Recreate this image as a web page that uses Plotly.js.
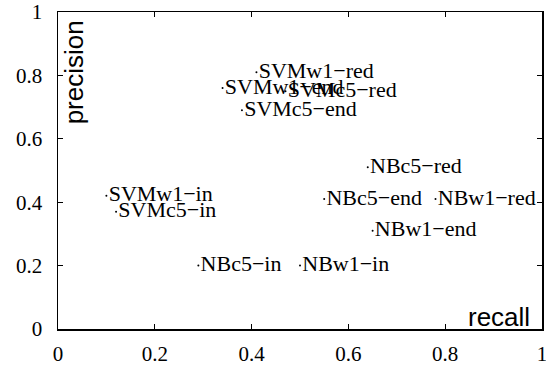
<!DOCTYPE html>
<html>
<head>
<meta charset="utf-8">
<script src="https://cdn.plot.ly/plotly-3.0.1.min.js"></script>
<style>html,body{margin:0;padding:0;background:#fff;}#chart{width:546px;height:366px;}</style>
</head>
<body>
<div id="chart"></div>
<script>
const labels = ["SVMw1−red","SVMw1−end","SVMc5−red","SVMc5−end","SVMw1−in","SVMc5−in",
                "NBc5−red","NBc5−end","NBw1−red","NBw1−end","NBw1−in","NBc5−in"];
const recall    = [0.41, 0.34, 0.47, 0.38, 0.10, 0.12, 0.64, 0.55, 0.78, 0.65, 0.50, 0.29];
const precision = [0.81, 0.76, 0.75, 0.69, 0.42, 0.37, 0.51, 0.41, 0.41, 0.31, 0.20, 0.20];
const tickVals = [0, 0.2, 0.4, 0.6, 0.8, 1];
const tickText = ["0", "0.2", "0.4", "0.6", "0.8", "1"];

const serif = "'Liberation Serif', 'Times New Roman', serif";
const sans = "'Liberation Sans', Arial, sans-serif";

const trace = {
  x: recall, y: precision, text: labels,
  type: "scatter", mode: "markers+text",
  textposition: "middle right",
  marker: {size: 2, color: "#000"},
  textfont: {family: serif, size: 22, color: "#000"},
  cliponaxis: false, hoverinfo: "none"
};

const axisCommon = {
  range: [0, 1], showgrid: false, zeroline: false,
  showline: true, linecolor: "#000", linewidth: 1.5, mirror: "allticks",
  ticks: "inside", ticklen: 5, tickcolor: "#000", tickwidth: 1,
  tickvals: tickVals, ticktext: tickText,
  tickfont: {family: serif, size: 21, color: "#000"},
  ticklabeloverflow: "allow",
  fixedrange: true
};

const layout = {
  width: 546, height: 366,
  margin: {l: 58, r: 4, t: 12, b: 37},
  paper_bgcolor: "#fff", plot_bgcolor: "#fff",
  showlegend: false,
  xaxis: Object.assign({}, axisCommon, {ticklabelstandoff: 5}),
  yaxis: Object.assign({}, axisCommon, {ticklabelstandoff: 10}),
  annotations: [
    {text: "precision", xref: "paper", yref: "paper", x: 0, y: 0.98,
     xanchor: "left", yanchor: "top", textangle: -90, showarrow: false, xshift: -1,
     font: {family: sans, size: 26, color: "#000"}},
    {text: "recall", xref: "paper", yref: "paper", x: 0.98, y: 0,
     xanchor: "right", yanchor: "bottom", yshift: -5, showarrow: false,
     font: {family: sans, size: 26, color: "#000"}}
  ]
};

Plotly.newPlot("chart", [trace], layout, {staticPlot: true, displayModeBar: false});
</script>
</body>
</html>
